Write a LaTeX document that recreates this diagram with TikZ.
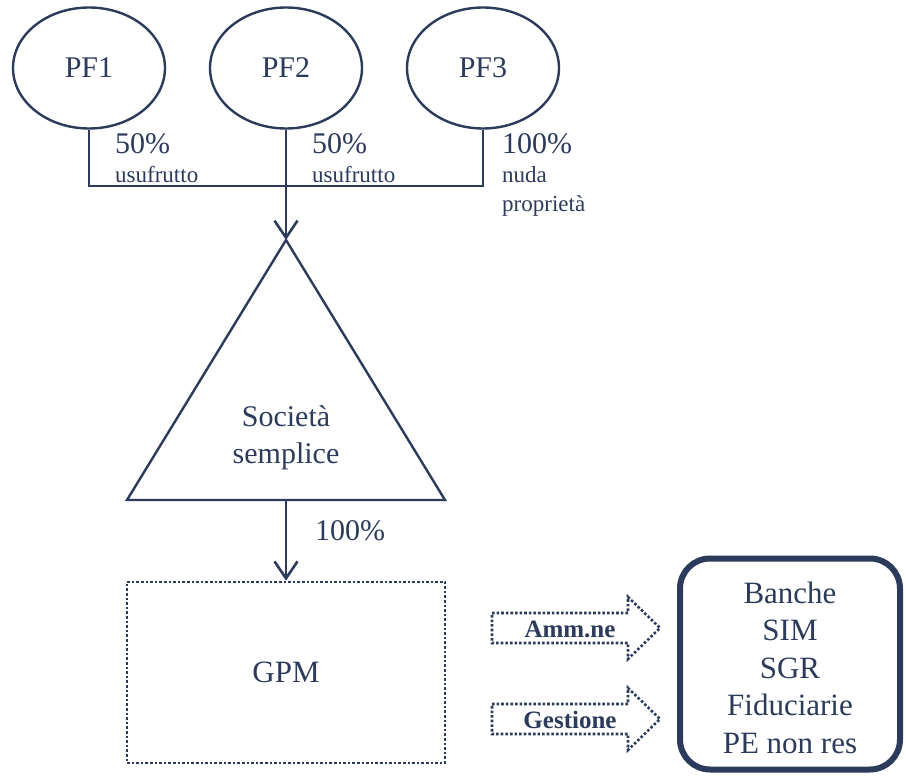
\documentclass[tikz,border=0pt]{standalone}
\usepackage{fontspec}
\setmainfont{Liberation Serif}
\usetikzlibrary{shapes.geometric,arrows.meta}
\definecolor{navy}{RGB}{44,58,92}
\begin{document}
\begin{tikzpicture}[x=1pt,y=-1pt,
  line/.style={draw=navy,line width=2.6pt},
  ell/.style={ellipse,draw=navy,line width=2.4pt,minimum width=152pt,minimum height=121pt,inner sep=0pt,text=navy,font=\fontsize{30}{36}\selectfont},
  big/.style={text=navy,font=\fontsize{30}{37}\selectfont,inner sep=0pt},
  small/.style={text=navy,font=\fontsize{23}{29}\selectfont,inner sep=0pt},
  bold/.style={text=navy,font=\fontsize{25}{30}\selectfont\bfseries,inner sep=0pt},
  arr/.style={line,-{Straight Barb[length=17pt,width=23pt,line width=2.6pt]}},
  dotline/.style={draw=navy,line width=2.6pt,dash pattern=on 2.6pt off 2pt},
  finbox/.style={draw=navy,line width=6pt,rounded corners=30pt,minimum width=220pt,minimum height=211pt,align=center,text=navy,font=\fontsize{31}{37.5}\selectfont}
]
\useasboundingbox (0,0) rectangle (906,778);
\fill[white] (0,0) rectangle (906,778);

% ellipses
\node[ell] (pf1) at (89,68) {PF1};
\node[ell] (pf2) at (286,68) {PF2};
\node[ell] (pf3) at (483,68) {PF3};

% junction and triangle corners
\coordinate (j) at (286,186);
\coordinate (apex) at (286,240);
\coordinate (bl) at (127,500);
\coordinate (br) at (445,500);
\coordinate (bc) at (286,500);

\draw[line] (pf1.south) |- (j) -| (pf3.south);
\draw[arr] (pf2.south) -- (apex);

% triangle
\draw[line,line width=2.4pt,line join=miter] (apex) -- (br) -- (bl) -- cycle;
\node[big,align=center] (soc) at (286,438) {Società\\semplice};

% GPM box
\node[draw=navy,line width=2.6pt,dash pattern=on 2.6pt off 2pt,minimum width=318pt,minimum height=181pt,inner sep=0pt,text=navy,font=\fontsize{31}{37}\selectfont] (gpm) at (286,672.5) {GPM};
\draw[arr] (bc) -- (gpm.north);

% labels
\node[big,anchor=base west] (l1) at (115,154) {50\%};
\node[small,anchor=base west] (u1) at (115,183) {usufrutto};
\node[big,anchor=base west] (l2) at (312,154) {50\%};
\node[small,anchor=base west] (u2) at (312,183) {usufrutto};
\node[big,anchor=base west] (l3) at (502,154) {100\%};
\node[small,anchor=base west] (n3) at (502,183) {nuda};
\node[small,anchor=base west] (p3) at (502,212) {proprietà};
\node[big,anchor=base west] (l4) at (315,540) {100\%};

% block arrows
\draw[dotline,line join=miter] (492,613) -- (628,613) -- (628,597) -- (660,628) -- (628,659) -- (628,643) -- (492,643) -- cycle;
\node[bold,anchor=base] (amm) at (570,637) {Amm.ne};
\draw[dotline,line join=miter] (492,704) -- (628,704) -- (628,688) -- (660,719) -- (628,750) -- (628,734) -- (492,734) -- cycle;
\node[bold,anchor=base] (ges) at (570,728) {Gestione};

% intermediaries box
\node[finbox] (fin) at (790,664) {\rule{0pt}{29pt}Banche\\SIM\\SGR\\Fiduciarie\\PE non res};
\end{tikzpicture}
\end{document}
